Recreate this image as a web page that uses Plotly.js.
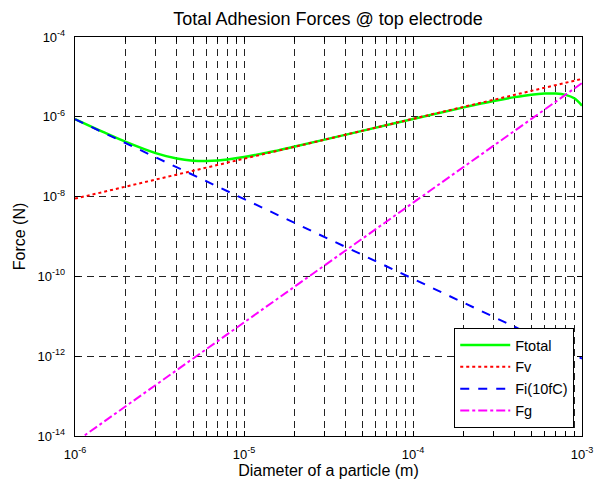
<!DOCTYPE html>
<html><head><meta charset="utf-8">
<script src="https://cdn.plot.ly/plotly-3.0.1.min.js"></script>
<style>html,body{margin:0;padding:0;background:#fff;}#chart{width:602px;height:489px;}</style>
</head><body><div id="chart"></div>
<script>
// Diameter of particle (m)
const diameter = [1e-6,1.5e-6,2e-6,3e-6,4e-6,5e-6,6e-6,7e-6,8e-6,1e-5,1.5e-5,2e-5,3e-5,5e-5,1e-4,2e-4,3e-4,4e-4,5e-4,6e-4,7e-4,8e-4,9e-4,1e-3];
const Ftotal = [8.79e-7,4.0e-7,2.35e-7,1.23e-7,9.0e-8,7.93e-8,7.76e-8,8.0e-8,8.48e-8,9.77e-8,1.37e-7,1.80e-7,2.68e-7,4.44e-7,8.83e-7,1.72e-6,2.48e-6,3.11e-6,3.58e-6,3.83e-6,3.83e-6,3.54e-6,2.91e-6,1.9e-6];
const lineD = [1e-6,1e-3];
const Fv = [8.9e-9,8.9e-6];
const Fi = [8.7e-7,8.7e-13];
const FgD = [1.0e-6,1e-5,1e-4,1e-3];
const Fg = [7.0e-15,7.0e-12,7.0e-9,7.0e-6];
const xTickVals = [1e-6,1e-5,1e-4,1e-3];
const xTickText = ['10<sup>-6</sup>','10<sup>-5</sup>','10<sup>-4</sup>','10<sup>-3</sup>'];
const xMinorVals = [];
[-6,-5,-4].forEach(e=>{for(let k=2;k<10;k++){xMinorVals.push(k*Math.pow(10,e));}});
const yTickVals = [1e-14,1e-12,1e-10,1e-8,1e-6,1e-4];
const yTickText = ['10<sup>-14</sup>','10<sup>-12</sup>','10<sup>-10</sup>','10<sup>-8</sup>','10<sup>-6</sup>','10<sup>-4</sup>'];

const traces = [
 {x:diameter,y:Ftotal,name:'Ftotal',mode:'lines',line:{color:'#00ff00',width:2.5,shape:'spline'}},
 {x:lineD,y:Fv,name:'Fv',mode:'lines',line:{color:'#ff0000',width:2,dash:'dot'}},
 {x:lineD,y:Fi,name:'Fi(10fC)',mode:'lines',line:{color:'#0000ff',width:2,dash:'dash'}},
 {x:FgD,y:Fg,name:'Fg',mode:'lines',line:{color:'#ff00ff',width:2,dash:'dashdot'}}
];
const gridDash = '7px,5px';
const axCommon = {showline:true,linecolor:'#000',linewidth:1.2,mirror:'ticks',ticks:'inside',ticklen:5,tickcolor:'#000',
  showgrid:true,gridcolor:'#222',gridwidth:1,griddash:gridDash,zeroline:false,
  tickfont:{family:'Liberation Sans, Arial',size:13,color:'#000'}};
const layout = {
  width:602,height:489,margin:{l:75,r:20,t:37,b:53},paper_bgcolor:'#fff',plot_bgcolor:'#fff',
  font:{family:'Liberation Sans, Arial',color:'#000'},
  title:{text:'Total Adhesion Forces @ top electrode',font:{size:18,color:'#000'},x:0.545,xanchor:'center',y:0.962,yanchor:'middle'},
  xaxis:Object.assign({},axCommon,{type:'log',range:[-6,-3],tickmode:'array',tickvals:xTickVals,ticktext:xTickText,
    ticklabelstandoff:6,
    minor:{tickmode:'array',tickvals:xMinorVals,ticks:'inside',ticklen:5,tickcolor:'#000',showgrid:true,gridcolor:'#222',gridwidth:1,griddash:gridDash},
    title:{text:'Diameter of a particle (m)',font:{size:16},standoff:4}}),
  yaxis:Object.assign({},axCommon,{type:'log',range:[-14,-4],tickmode:'array',tickvals:yTickVals,ticktext:yTickText,
    ticklabelstandoff:6,
    title:{text:'Force (N)',font:{size:16},standoff:8}}),
  showlegend:true,
  legend:{x:0.748,y:0.02,xanchor:'left',yanchor:'bottom',bgcolor:'#fff',bordercolor:'#000',borderwidth:1,
    font:{size:14.5,color:'#000'},tracegroupgap:0,itemwidth:50}
};
Plotly.newPlot('chart',traces,layout,{displayModeBar:false,staticPlot:true});
</script></body></html>
